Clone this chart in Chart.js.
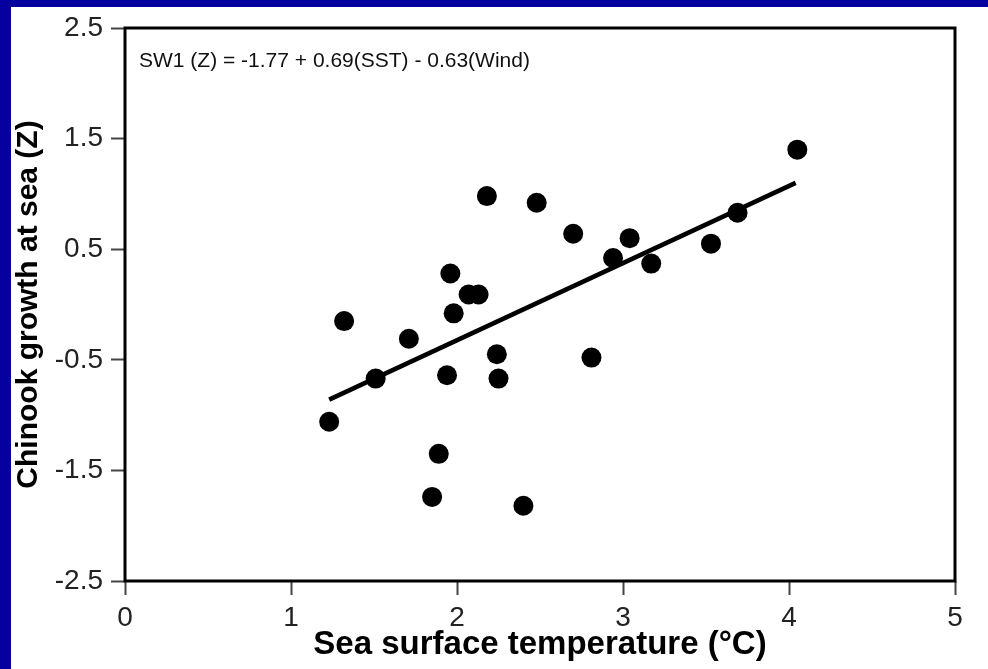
<!DOCTYPE html>
<html>
<head>
<meta charset="utf-8">
<script src="https://cdn.jsdelivr.net/npm/chart.js@4/dist/chart.umd.min.js"></script>
<style>
  html, body { margin: 0; padding: 0; background: #0600a0; }
  canvas { display: block; }
</style>
</head>
<body>
<canvas id="sstChart" width="988" height="669"></canvas>
<script>
// Sea surface temperature (x) vs Chinook growth at sea (y)
const sstValues = [1.23, 1.32, 1.51, 1.71, 1.85, 1.89, 1.94, 1.96, 1.98, 2.07, 2.13, 2.18,
                   2.24, 2.25, 2.40, 2.48, 2.70, 2.81, 2.94, 3.04, 3.17, 3.53, 3.69, 4.05];
const growthZ = [-1.06, -0.15, -0.67, -0.31, -1.74, -1.35, -0.64, 0.28, -0.08, 0.09, 0.09, 0.98,
                 -0.45, -0.67, -1.82, 0.92, 0.64, -0.48, 0.42, 0.60, 0.37, 0.55, 0.83, 1.40];

// regression line ends
const fitX = [1.23, 4.04];
const fitY = [-0.86, 1.10];

const xTicks = [0, 1, 2, 3, 4, 5];
const yTicks = [-2.5, -1.5, -0.5, 0.5, 1.5, 2.5];

const equationText = 'SW1 (Z) = -1.77 + 0.69(SST) - 0.63(Wind)';
const xTitle = 'Sea surface temperature (\u00B0C)';
const yTitle = 'Chinook growth at sea (Z)';

const FONT = "'Liberation Sans', Arial, Helvetica, sans-serif";

// blue frame + white panel
const panelBg = {
    id: 'panelBg',
    beforeDraw(chart) {
        const ctx = chart.ctx;
        ctx.save();
        ctx.fillStyle = '#0600a0';
        ctx.fillRect(0, 0, chart.width, chart.height);
        ctx.fillStyle = '#ffffff';
        ctx.fillRect(11, 7, chart.width - 11, chart.height - 7);
        ctx.restore();
    }
};

// plot box and equation text
const boxAndLabel = {
    id: 'boxAndLabel',
    afterDraw(chart) {
        const { ctx, chartArea: a } = chart;
        ctx.save();
        ctx.strokeStyle = '#000';
        ctx.lineWidth = 3;
        ctx.strokeRect(a.left, a.top, a.right - a.left, a.bottom - a.top);
        ctx.fillStyle = '#111';
        ctx.font = '21px ' + FONT;
        ctx.textBaseline = 'alphabetic';
        ctx.fillText(equationText, a.left + 14, a.top + 39);
        ctx.restore();
    }
};

new Chart(document.getElementById('sstChart').getContext('2d'), {
    type: 'scatter',
    data: {
        datasets: [{
            label: 'Growth',
            data: sstValues.map((x, i) => ({ x: x, y: growthZ[i] })),
            backgroundColor: '#000',
            borderWidth: 0,
            pointRadius: 10,
            pointHoverRadius: 10
        }, {
            label: 'Fit',
            type: 'line',
            data: fitX.map((x, i) => ({ x: x, y: fitY[i] })),
            borderColor: '#000',
            borderWidth: 4.5,
            pointRadius: 0,
            fill: false
        }]
    },
    options: {
        responsive: false,
        animation: false,
        events: [],
        layout: { padding: { left: 0, top: 28, right: 33, bottom: 0 } },
        plugins: { legend: { display: false }, tooltip: { enabled: false } },
        scales: {
            x: {
                type: 'linear',
                min: 0, max: 5,
                afterBuildTicks: s => { s.ticks = xTicks.map(v => ({ value: v })); },
                afterFit: s => { s.height = 88; },
                border: { display: false },
                grid: { drawOnChartArea: false, drawTicks: true, tickLength: 14, tickWidth: 2, tickColor: '#444' },
                ticks: { color: '#222', padding: 6, font: { family: FONT, size: 28 }, callback: v => String(v) },
                title: { display: true, text: xTitle, color: '#000', padding: { top: 0, bottom: 4 },
                         font: { family: FONT, size: 33, weight: 'bold' } }
            },
            y: {
                type: 'linear',
                min: -2.5, max: 2.5,
                afterBuildTicks: s => { s.ticks = yTicks.map(v => ({ value: v })); },
                afterFit: s => { s.width = 125; },
                border: { display: false },
                grid: { drawOnChartArea: false, drawTicks: true, tickLength: 14, tickWidth: 2, tickColor: '#444' },
                ticks: { color: '#222', padding: 8, font: { family: FONT, size: 28 }, callback: v => String(v) },
                title: { display: true, text: yTitle, color: '#000', padding: { top: 11, bottom: 0 },
                         font: { family: FONT, size: 30, weight: 'bold' } }
            }
        }
    },
    plugins: [panelBg, boxAndLabel]
});
</script>
</body>
</html>
